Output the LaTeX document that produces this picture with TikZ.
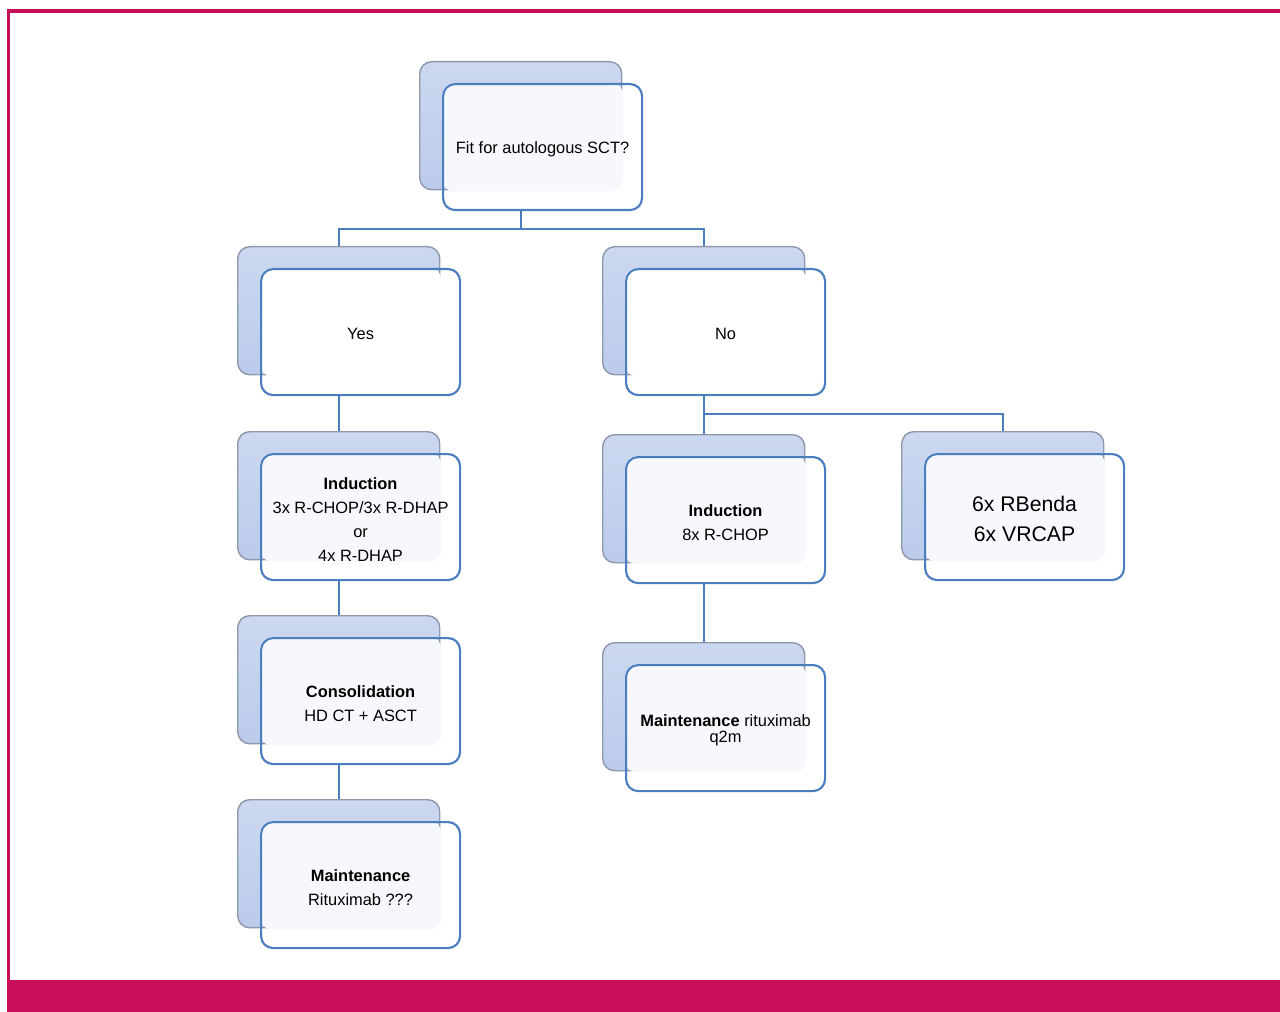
\documentclass[tikz,border=0pt]{standalone}
\usepackage{fontspec}
\setmainfont{Liberation Sans}
\usetikzlibrary{calc}
\definecolor{mag}{HTML}{C80E58}
\definecolor{fblue}{HTML}{4A7EBF}
\definecolor{bgray}{HTML}{8E9AAC}
\definecolor{btop}{HTML}{CCD8F1}
\definecolor{bbot}{HTML}{BCCBEA}
\definecolor{ovl}{HTML}{F6F8FC}
\tikzset{
  backbox/.style={draw=bgray, line width=1.1pt, top color=btop, bottom color=bbot,
    rounded corners=9pt, minimum width=151.5pt, minimum height=96pt, inner sep=0pt, anchor=north west},
  frontbox/.style={draw=fblue, line width=1.6pt, rounded corners=9pt,
    minimum width=149.25pt, minimum height=94.5pt, inner sep=0pt, anchor=north west},
  boxtext/.style={align=center, inner sep=0pt, yshift=-1.6pt, font=\fontsize{12.3}{18}\selectfont},
  conn/.style={draw=fblue, line width=1.6pt},
}
% #1 name, #2 back top-left, #3 overlay colour, #4 text, #5 extra text style
\newcommand\stackbox[5]{%
  \node[backbox] (#1-b) at (#2) {};
  \fill[#3, rounded corners=9pt] ($(#1-b.north west)+(23,22)$) rectangle ($(#1-b.south east)+(1,1)$);
  \node[frontbox] (#1) at ($(#1-b.north west)+(23,22)$) {};
  \node[boxtext,#5] (#1-t) at (#1.center) {#4};
}
\begin{document}
\begin{tikzpicture}[x=0.75pt,y=-0.75pt]
\useasboundingbox (0,0) rectangle (1280,1012);
% frame
\fill[mag] (7,980) rectangle (1280,1012);
\draw[mag, line width=2.3pt] (8.5,981) -- (8.5,11) -- (1280,11);
% boxes
\stackbox{top}{419,61}{ovl}{Fit for autologous SCT?}{}
\stackbox{yes}{237,246}{white}{Yes}{}
\stackbox{no}{602,246}{white}{No}{}
\stackbox{indL}{237,431}{ovl}{\textbf{Induction}\\3x R-CHOP/3x R-DHAP\\or\\4x R-DHAP}{}
\stackbox{indR}{602,434}{ovl}{\textbf{Induction}\\8x R-CHOP}{}
\stackbox{benda}{901,431}{ovl}{6x RBenda\\6x VRCAP}{font=\fontsize{15.9}{22.5}\selectfont}
\stackbox{cons}{237,615}{ovl}{\textbf{Consolidation}\\HD CT + ASCT}{}
\stackbox{mainR}{602,642}{ovl}{\textbf{Maintenance} rituximab\\q2m}{font=\fontsize{12.3}{12}\selectfont}
\stackbox{mainL}{237,799}{ovl}{\textbf{Maintenance}\\Rituximab ???}{}
% connectors
\draw[conn] (top-b.south |- top.south) -- ++(0,18) -| (yes-b.north);
\draw[conn] (top-b.south |- top.south) -- ++(0,18) -| (no-b.north);
\draw[conn] (yes-b.south |- yes.south) -- (indL-b.north);
\draw[conn] (indL-b.south |- indL.south) -- (cons-b.north);
\draw[conn] (cons-b.south |- cons.south) -- (mainL-b.north);
\draw[conn] (no-b.south |- no.south) -- (indR-b.north);
\draw[conn] (no-b.south |- no.south) -- ++(0,18) -| (benda-b.north);
\draw[conn] (indR-b.south |- indR.south) -- (mainR-b.north);
\end{tikzpicture}
\end{document}
